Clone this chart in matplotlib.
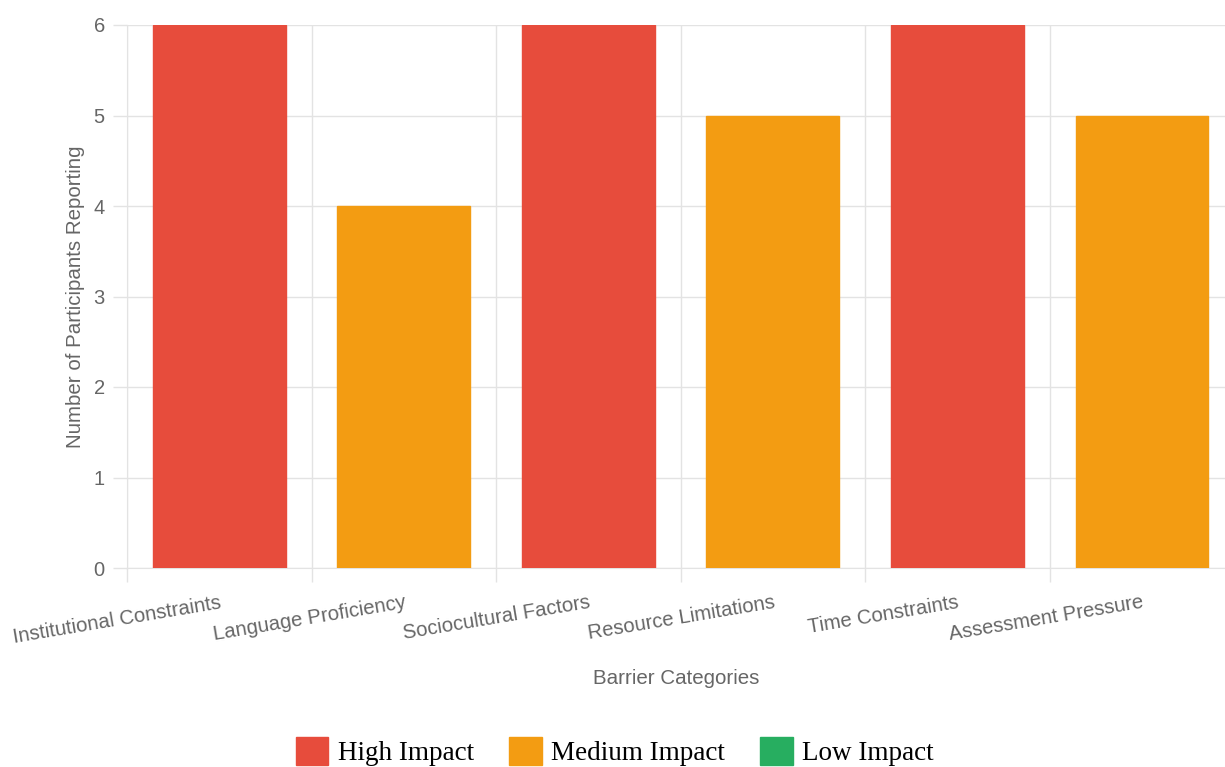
import matplotlib.pyplot as plt
from matplotlib.patches import Patch

plt.rcParams['font.family'] = ['Liberation Sans', 'DejaVu Sans']

categories = ['Institutional Constraints', 'Language Proficiency', 'Sociocultural Factors',
              'Resource Limitations', 'Time Constraints', 'Assessment Pressure']
counts = [6, 4, 6, 5, 6, 5]
impact = ['High', 'Medium', 'High', 'Medium', 'High', 'Medium']

impact_colors = {'High': '#e74c3c', 'Medium': '#f39c12', 'Low': '#27ae60'}
legend_labels = ['High Impact', 'Medium Impact', 'Low Impact']

grid_c = '#e3e3e3'
text_c = '#666666'

fig = plt.figure(figsize=(12.25, 7.67), dpi=100)
ax = fig.add_axes([127 / 1225, 1 - 568 / 767, 1 - 127 / 1225, (568 - 25) / 767])

x = list(range(len(categories)))
bar_colors = [impact_colors[i] for i in impact]
ax.bar(x, counts, width=0.72, color=bar_colors, edgecolor=bar_colors, linewidth=1, zorder=3)

ax.set_yticks(range(7))

# category labels centred on bars, grid lines between categories
ax.set_xticks(x)
ax.set_xticklabels(categories, rotation=9.5, ha='right', rotation_mode='anchor')
ax.set_xticks([i - 0.5 for i in range(len(categories) + 1)], minor=True)
ax.tick_params(axis='x', which='major', length=0, pad=18, labelsize=14.6, labelcolor=text_c)
ax.tick_params(axis='x', which='minor', length=10, color=grid_c, width=1)
ax.tick_params(axis='y', length=10, color=grid_c, width=1, labelsize=14.5, labelcolor=text_c, pad=6)

ax.set_xlim(-0.5, 5.45)
ax.set_ylim(0, 6)

ax.grid(axis='y', color=grid_c, linewidth=1, zorder=0)
ax.grid(axis='x', which='minor', color=grid_c, linewidth=1, zorder=0)
ax.grid(axis='x', which='major', visible=False)

for s in ['top', 'right']:
    ax.spines[s].set_visible(False)
for s in ['left', 'bottom']:
    ax.spines[s].set_color(grid_c)

ax.set_ylabel('Number of Participants Reporting', fontsize=14.8, color=text_c, labelpad=6)
ax.set_xlabel('Barrier Categories', fontsize=14.8, color=text_c, labelpad=16)

handles = [Patch(facecolor=impact_colors[k], edgecolor=impact_colors[k]) for k in ['High', 'Medium', 'Low']]
fig.legend(handles, legend_labels, loc='center', bbox_to_anchor=(0.502, 0.02), ncol=3, frameon=False,
           prop={'family': 'Liberation Serif', 'size': 19.5}, handlelength=1.2, handleheight=1.2,
           handletextpad=0.35, columnspacing=1.3)

fig.savefig('out.png', dpi=100)
